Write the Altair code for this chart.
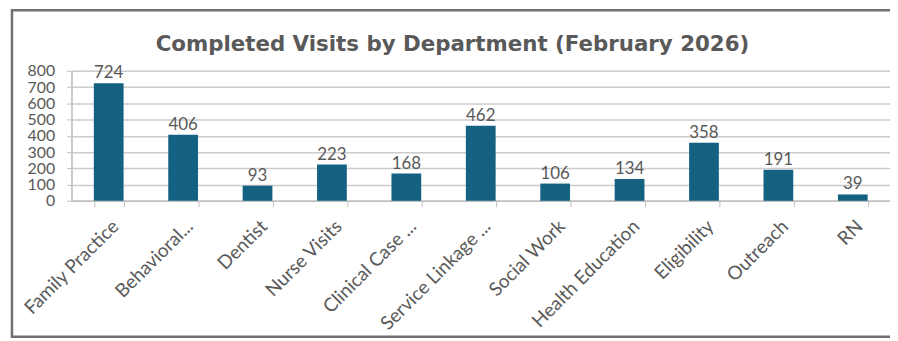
import altair as alt
import pandas as pd

departments = ["Family Practice", "Behavioral...", "Dentist", "Nurse Visits", "Clinical Case ...",
               "Service Linkage ...", "Social Work", "Health Education", "Eligibility", "Outreach", "RN"]
visits = [724, 406, 93, 223, 168, 462, 106, 134, 358, 191, 39]
y_ticks = [0, 100, 200, 300, 400, 500, 600, 700, 800]
title_text = "Completed Visits by Department (February 2026)"

df = pd.DataFrame({"Department": departments, "Visits": visits})

FONT = "Lato"
GRAY = "#595959"
BAR = "#156181"

base = alt.Chart(df).encode(
    x=alt.X("Department:N", sort=departments, title=None,
            scale=alt.Scale(paddingInner=0.6, paddingOuter=0.3),
            axis=alt.Axis(labelAngle=-45, labelFontSize=19, labelColor=GRAY, labelFont=FONT,
                          tickBand="extent", tickSize=6, tickColor="#bfbfbf", domainColor="#bfbfbf",
                          domainWidth=1.5, labelPadding=10, labelLimit=250, labelOverlap=False)),
    y=alt.Y("Visits:Q", title=None,
            scale=alt.Scale(domain=[0, 800], nice=False),
            axis=alt.Axis(values=y_ticks, tickCount=9, labelFontSize=16, labelColor=GRAY, labelFont=FONT,
                          tickSize=5, tickColor="#bfbfbf", domainColor="#bfbfbf", domainWidth=1.5,
                          gridColor="#cccccc", gridWidth=1.5, labelPadding=12, labelOverlap=False,
                          labelBaseline="middle")),
)

bars = base.mark_bar(color=BAR)

labels = base.mark_text(baseline="bottom", dy=-1, fontSize=17, color=GRAY, font=FONT).encode(
    text=alt.Text("Visits:Q"),
)

frame = alt.Chart(alt.Data(values=[{}])).mark_rect(
    fill=None, stroke="#707070", strokeWidth=2.5
).encode(
    x=alt.value(-60), x2=alt.value(900), y=alt.value(-61), y2=alt.value(268)
)

title = alt.Chart(alt.Data(values=[{"t": title_text}])).mark_text(
    font="DejaVu Sans", fontSize=21.5, fontWeight="bold", color=GRAY, baseline="middle", align="center"
).encode(
    x=alt.value(384), y=alt.value(-26), text="t:N"
)

chart = alt.layer(frame, bars, labels, title).properties(
    width=825, height=131,
    padding={"left": 64, "top": 62, "right": 0, "bottom": 140},
    autosize=alt.AutoSizeParams(type="none"),
).configure_view(stroke=None).configure(background="white")

chart.save("out.html", embed_options={"renderer": "svg", "actions": False})
